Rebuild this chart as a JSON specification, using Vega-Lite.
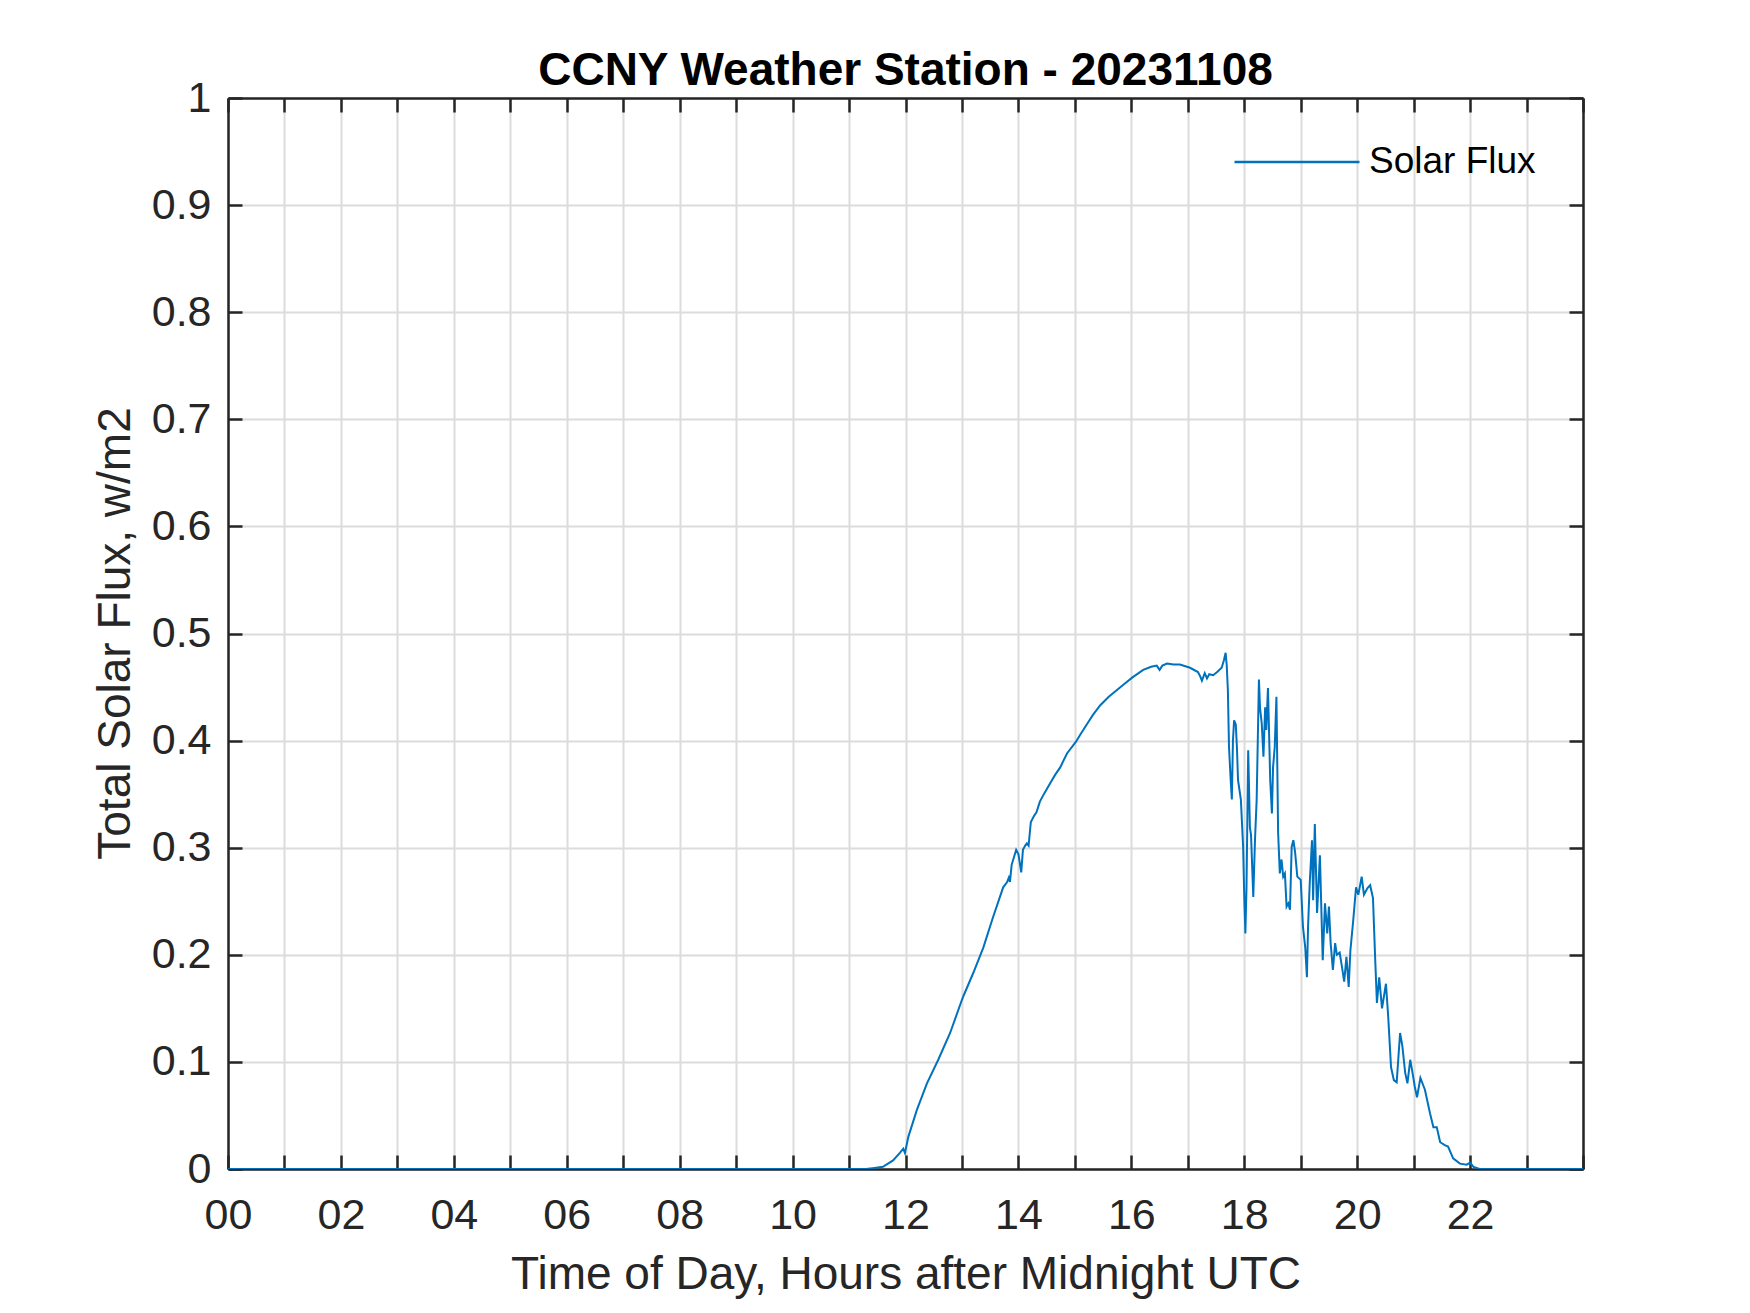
{
  "$schema": "https://vega.github.io/schema/vega-lite/v6.json",
  "autosize": "none",
  "padding": {"left": 228, "top": 98, "right": 167, "bottom": 144},
  "width": 1355,
  "height": 1071,
  "background": "white",
  "title": {
    "text": "CCNY Weather Station - 20231108",
    "fontSize": 46,
    "fontWeight": "bold",
    "color": "#000000",
    "anchor": "middle",
    "baseline": "alphabetic",
    "offset": 18,
    "dy": 72
  },
  "data": {
    "values": [
      {"h": 0, "v": 0}, {"h": 11.3, "v": 0}, {"h": 11.45, "v": 0.001}, {"h": 11.6, "v": 0.002},
      {"h": 11.78, "v": 0.008}, {"h": 11.9, "v": 0.015}, {"h": 11.96, "v": 0.019}, {"h": 11.99, "v": 0.015},
      {"h": 12.05, "v": 0.03}, {"h": 12.2, "v": 0.055}, {"h": 12.38, "v": 0.08}, {"h": 12.58, "v": 0.102},
      {"h": 12.79, "v": 0.127}, {"h": 13.0, "v": 0.158}, {"h": 13.03, "v": 0.162}, {"h": 13.2, "v": 0.183},
      {"h": 13.38, "v": 0.207}, {"h": 13.55, "v": 0.235}, {"h": 13.73, "v": 0.263}, {"h": 13.8, "v": 0.268},
      {"h": 13.83, "v": 0.272}, {"h": 13.85, "v": 0.268}, {"h": 13.88, "v": 0.284}, {"h": 13.96, "v": 0.298},
      {"h": 14.0, "v": 0.294}, {"h": 14.05, "v": 0.277}, {"h": 14.08, "v": 0.298}, {"h": 14.12, "v": 0.302},
      {"h": 14.15, "v": 0.304}, {"h": 14.18, "v": 0.302}, {"h": 14.22, "v": 0.324}, {"h": 14.28, "v": 0.33},
      {"h": 14.32, "v": 0.333}, {"h": 14.38, "v": 0.343}, {"h": 14.45, "v": 0.35}, {"h": 14.56, "v": 0.36},
      {"h": 14.65, "v": 0.368}, {"h": 14.74, "v": 0.375}, {"h": 14.86, "v": 0.388}, {"h": 15.02, "v": 0.399},
      {"h": 15.1, "v": 0.406}, {"h": 15.21, "v": 0.415}, {"h": 15.32, "v": 0.424}, {"h": 15.45, "v": 0.433},
      {"h": 15.6, "v": 0.441}, {"h": 15.74, "v": 0.447}, {"h": 15.88, "v": 0.453}, {"h": 16.02, "v": 0.459},
      {"h": 16.21, "v": 0.466}, {"h": 16.35, "v": 0.469}, {"h": 16.45, "v": 0.47}, {"h": 16.5, "v": 0.466},
      {"h": 16.55, "v": 0.47}, {"h": 16.63, "v": 0.472}, {"h": 16.75, "v": 0.471}, {"h": 16.86, "v": 0.471},
      {"h": 17.04, "v": 0.468}, {"h": 17.18, "v": 0.464}, {"h": 17.22, "v": 0.46}, {"h": 17.25, "v": 0.456},
      {"h": 17.3, "v": 0.463}, {"h": 17.34, "v": 0.458}, {"h": 17.38, "v": 0.462}, {"h": 17.45, "v": 0.461},
      {"h": 17.52, "v": 0.464}, {"h": 17.6, "v": 0.468}, {"h": 17.64, "v": 0.475}, {"h": 17.67, "v": 0.482},
      {"h": 17.69, "v": 0.47}, {"h": 17.71, "v": 0.447}, {"h": 17.73, "v": 0.394}, {"h": 17.76, "v": 0.363},
      {"h": 17.78, "v": 0.345}, {"h": 17.8, "v": 0.4}, {"h": 17.82, "v": 0.419}, {"h": 17.85, "v": 0.415},
      {"h": 17.87, "v": 0.394}, {"h": 17.89, "v": 0.363}, {"h": 17.94, "v": 0.345}, {"h": 17.98, "v": 0.301},
      {"h": 18.0, "v": 0.254}, {"h": 18.02, "v": 0.22}, {"h": 18.04, "v": 0.263}, {"h": 18.07, "v": 0.391},
      {"h": 18.1, "v": 0.319}, {"h": 18.12, "v": 0.312}, {"h": 18.16, "v": 0.254}, {"h": 18.19, "v": 0.307},
      {"h": 18.22, "v": 0.345}, {"h": 18.26, "v": 0.457}, {"h": 18.28, "v": 0.43}, {"h": 18.31, "v": 0.416},
      {"h": 18.34, "v": 0.385}, {"h": 18.37, "v": 0.431}, {"h": 18.39, "v": 0.41}, {"h": 18.42, "v": 0.449},
      {"h": 18.46, "v": 0.363}, {"h": 18.49, "v": 0.332}, {"h": 18.51, "v": 0.375}, {"h": 18.54, "v": 0.394},
      {"h": 18.57, "v": 0.441}, {"h": 18.6, "v": 0.314}, {"h": 18.63, "v": 0.276}, {"h": 18.66, "v": 0.289},
      {"h": 18.69, "v": 0.273}, {"h": 18.72, "v": 0.276}, {"h": 18.75, "v": 0.245}, {"h": 18.78, "v": 0.248},
      {"h": 18.81, "v": 0.242}, {"h": 18.84, "v": 0.301}, {"h": 18.87, "v": 0.307}, {"h": 18.9, "v": 0.296},
      {"h": 18.94, "v": 0.273}, {"h": 19.0, "v": 0.27}, {"h": 19.04, "v": 0.226}, {"h": 19.08, "v": 0.207},
      {"h": 19.11, "v": 0.179}, {"h": 19.13, "v": 0.226}, {"h": 19.16, "v": 0.267}, {"h": 19.2, "v": 0.307},
      {"h": 19.22, "v": 0.251}, {"h": 19.25, "v": 0.322}, {"h": 19.29, "v": 0.239}, {"h": 19.34, "v": 0.293},
      {"h": 19.39, "v": 0.195}, {"h": 19.43, "v": 0.248}, {"h": 19.47, "v": 0.22}, {"h": 19.5, "v": 0.245},
      {"h": 19.53, "v": 0.211}, {"h": 19.57, "v": 0.186}, {"h": 19.61, "v": 0.211}, {"h": 19.64, "v": 0.2},
      {"h": 19.69, "v": 0.202}, {"h": 19.73, "v": 0.189}, {"h": 19.77, "v": 0.175}, {"h": 19.81, "v": 0.198},
      {"h": 19.85, "v": 0.17}, {"h": 19.88, "v": 0.204}, {"h": 19.93, "v": 0.232}, {"h": 19.98, "v": 0.263},
      {"h": 20.02, "v": 0.256}, {"h": 20.08, "v": 0.273}, {"h": 20.12, "v": 0.256}, {"h": 20.18, "v": 0.262},
      {"h": 20.23, "v": 0.265}, {"h": 20.28, "v": 0.253}, {"h": 20.32, "v": 0.195}, {"h": 20.35, "v": 0.155},
      {"h": 20.39, "v": 0.179}, {"h": 20.44, "v": 0.15}, {"h": 20.51, "v": 0.173}, {"h": 20.55, "v": 0.142},
      {"h": 20.6, "v": 0.095}, {"h": 20.65, "v": 0.083}, {"h": 20.7, "v": 0.081}, {"h": 20.76, "v": 0.127},
      {"h": 20.8, "v": 0.115}, {"h": 20.85, "v": 0.09}, {"h": 20.89, "v": 0.08}, {"h": 20.94, "v": 0.102},
      {"h": 20.98, "v": 0.09}, {"h": 21.02, "v": 0.077}, {"h": 21.06, "v": 0.067}, {"h": 21.12, "v": 0.085},
      {"h": 21.2, "v": 0.074}, {"h": 21.29, "v": 0.052}, {"h": 21.35, "v": 0.039}, {"h": 21.41, "v": 0.039},
      {"h": 21.47, "v": 0.025}, {"h": 21.56, "v": 0.022}, {"h": 21.61, "v": 0.021}, {"h": 21.7, "v": 0.01},
      {"h": 21.82, "v": 0.005}, {"h": 21.94, "v": 0.004}, {"h": 22.0, "v": 0.006}, {"h": 22.06, "v": 0.002},
      {"h": 22.17, "v": 0}, {"h": 24, "v": 0}
    ]
  },
  "layer": [
    {
      "mark": {"type": "line", "strokeWidth": 2, "clip": true},
      "encoding": {
        "x": {
          "field": "h",
          "type": "quantitative",
          "scale": {"domain": [0, 24], "nice": false, "zero": false},
          "axis": {
            "orient": "bottom",
            "values": [0, 1, 2, 3, 4, 5, 6, 7, 8, 9, 10, 11, 12, 13, 14, 15, 16, 17, 18, 19, 20, 21, 22, 23, 24],
            "labelExpr": "datum.value % 2 == 0 && datum.value < 24 ? (datum.value < 10 ? '0' + datum.value : '' + datum.value) : ''",
            "labelPadding": 39,
            "title": "Time of Day, Hours after Midnight UTC",
            "titleBaseline": "alphabetic",
            "titleY": 119
          }
        },
        "y": {
          "field": "v",
          "type": "quantitative",
          "scale": {"domain": [0, 1], "nice": false},
          "axis": {
            "orient": "left",
            "values": [0, 0.1, 0.2, 0.3, 0.4, 0.5, 0.6, 0.7, 0.8, 0.9, 1],
            "format": "~g",
            "labelPadding": 31,
            "title": "Total Solar Flux, w/m2",
            "titleAngle": -90,
            "titleBaseline": "alphabetic",
            "titleX": -99,
            "titleY": 535
          }
        },
        "color": {
          "datum": "Solar Flux",
          "type": "nominal",
          "scale": {"range": ["#0072BD"]},
          "legend": {
            "orient": "none",
            "legendX": 1005,
            "legendY": 0,
            "title": null,
            "symbolType": "stroke",
            "symbolSize": 15625,
            "symbolStrokeWidth": 2.5,
            "labelFontSize": 37,
            "labelColor": "#000000",
            "labelOffset": 8,
            "labelLimit": 400,
            "padding": 0
          }
        }
      }
    },
    {
      "mark": {"type": "line", "strokeOpacity": 0},
      "encoding": {
        "x": {
          "field": "h",
          "type": "quantitative",
          "axis": {
            "orient": "top",
            "values": [0, 1, 2, 3, 4, 5, 6, 7, 8, 9, 10, 11, 12, 13, 14, 15, 16, 17, 18, 19, 20, 21, 22, 23, 24],
            "labels": false,
            "grid": false,
            "title": null
          }
        },
        "y": {
          "field": "v",
          "type": "quantitative",
          "axis": {
            "orient": "right",
            "values": [0, 0.1, 0.2, 0.3, 0.4, 0.5, 0.6, 0.7, 0.8, 0.9, 1],
            "labels": false,
            "grid": false,
            "title": null
          }
        }
      }
    }
  ],
  "resolve": {"axis": {"x": "independent", "y": "independent"}},
  "config": {
    "font": "Liberation Sans",
    "view": {"stroke": null},
    "axis": {
      "domainColor": "#262626",
      "domainWidth": 2.5,
      "tickColor": "#262626",
      "tickWidth": 2.5,
      "tickSize": -14,
      "gridColor": "#dcdcdc",
      "gridWidth": 2,
      "labelFontSize": 43,
      "labelColor": "#262626",
      "labelFlush": false,
      "labelOverlap": false,
      "labelBound": false,
      "titleFontSize": 46,
      "titleFontWeight": "normal",
      "titleColor": "#262626"
    }
  }
}
